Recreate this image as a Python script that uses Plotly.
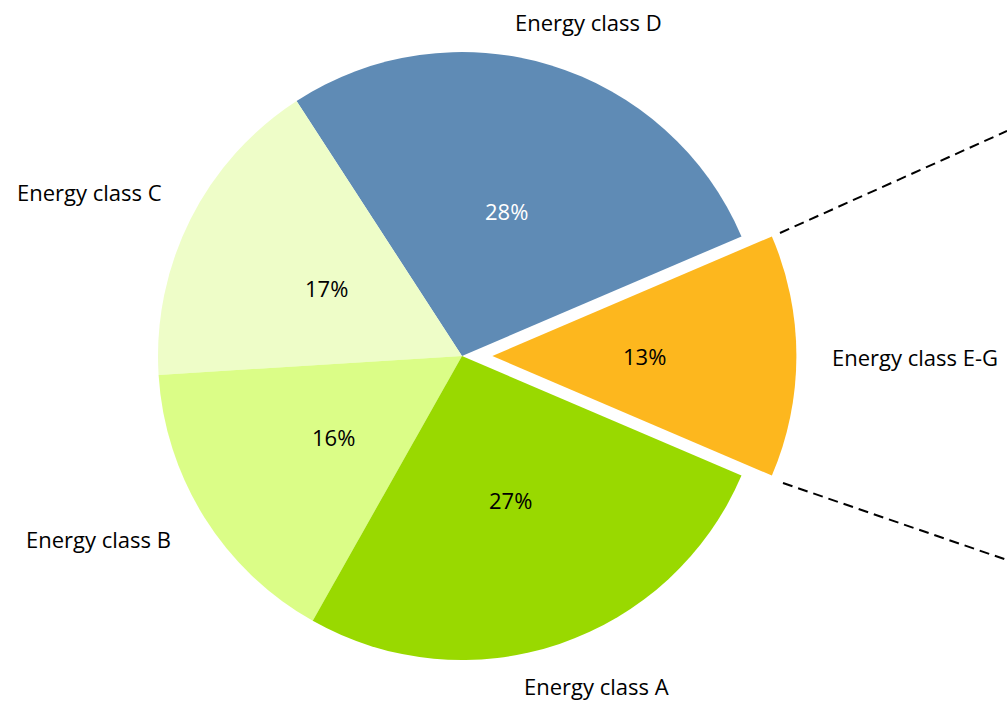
import math
import plotly.graph_objects as go

categories = ["Energy class E-G", "Energy class D", "Energy class C", "Energy class B", "Energy class A"]
values = [13, 28, 17, 16, 27]
pct_labels = ["13%", "28%", "17%", "16%", "27%"]
colors = ["#FDB71E", "#5F8BB5", "#EEFDC8", "#DBFD87", "#99D900"]
text_colors = ["#000000", "#FFFFFF", "#000000", "#000000", "#000000"]
pulls = [0.1, 0, 0, 0, 0]

# outer label positions (paper coords, text centre)
label_pos = [(915, 357), (588, 22), (89, 192), (98, 539), (596, 686)]

FONT = "Open Sans"
FSIZE = 22
W, H = 1007, 703
cx, cy, R = 462, 356, 304
box = 2 * R * (1 + max(pulls))
dom_x = [(cx - box / 2) / W, (cx + box / 2) / W]
dom_y = [1 - (cy + box / 2) / H, 1 - (cy - box / 2) / H]

total = sum(values)
start = -values[0] / total * 360 / 2  # math angle of first slice start
rotation = 90 - (start + values[0] / total * 360)

fig = go.Figure(go.Pie(
    labels=categories, values=values, sort=False, direction="counterclockwise",
    rotation=rotation, pull=pulls, textinfo="none", hoverinfo="label+percent",
    marker=dict(colors=colors, line=dict(width=0)),
    domain=dict(x=dom_x, y=dom_y), showlegend=False,
))

annotations = []
ang = start
for v, t, c, p in zip(values, pct_labels, text_colors, pulls):
    span = v / total * 360
    mid = math.radians(ang + span / 2)
    ox = cx + p * R * math.cos(mid)
    oy = cy - p * R * math.sin(mid)
    px = ox + 0.5 * R * math.cos(mid)
    py = oy - 0.5 * R * math.sin(mid)
    annotations.append(dict(x=px / W, y=1 - py / H, xref="paper", yref="paper", text=t,
                            showarrow=False, font=dict(family=FONT, size=FSIZE, color=c),
                            xanchor="center", yanchor="middle"))
    ang += span

for name, (lx, ly) in zip(categories, label_pos):
    annotations.append(dict(x=lx / W, y=1 - ly / H, xref="paper", yref="paper", text=name,
                            showarrow=False, font=dict(family=FONT, size=FSIZE, color="#000000"),
                            xanchor="center", yanchor="middle"))

shapes = [
    dict(type="line", xref="paper", yref="paper", x0=780 / W, y0=1 - 233 / H, x1=1.0, y1=1 - 131 / H,
         line=dict(color="#000000", width=2, dash="10px,6px")),
    dict(type="line", xref="paper", yref="paper", x0=783 / W, y0=1 - 483 / H, x1=1.0, y1=1 - 560 / H,
         line=dict(color="#000000", width=2, dash="10px,6px")),
]

fig.update_layout(width=W, height=H, margin=dict(l=0, r=0, t=0, b=0),
                  paper_bgcolor="white", plot_bgcolor="white",
                  annotations=annotations, shapes=shapes)
fig.write_html("out.html")
